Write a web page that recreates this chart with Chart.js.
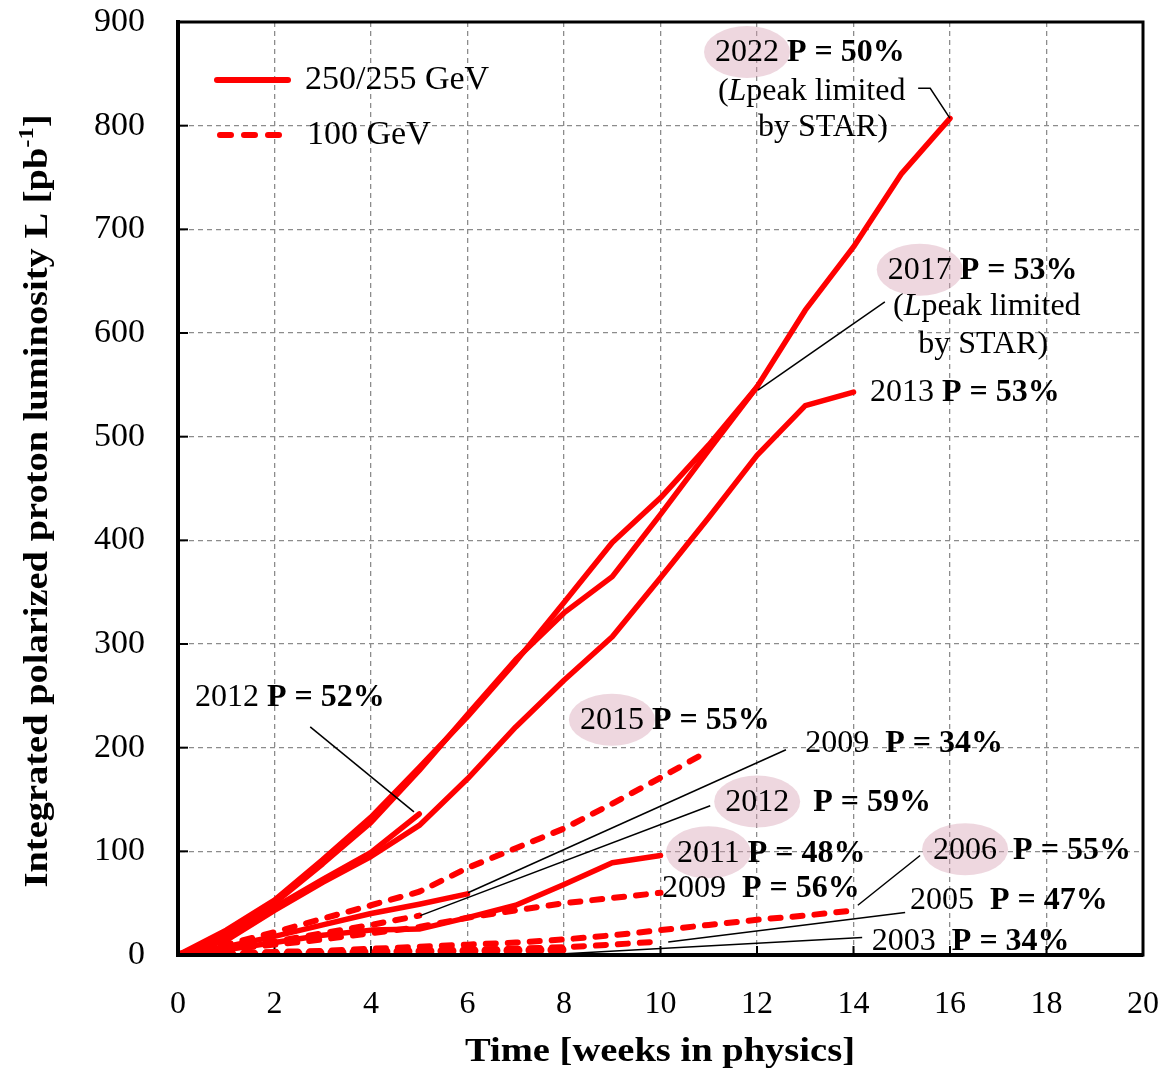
<!DOCTYPE html>
<html>
<head>
<meta charset="utf-8">
<script src="https://cdn.jsdelivr.net/npm/chart.js@4.4.1/dist/chart.umd.min.js"></script>
<style>
  html, body { margin: 0; padding: 0; background: #fff; }
</style>
</head>
<body>
<canvas id="lumiChart" width="1173" height="1071"></canvas>
<script>
// values per week in physics (index = week), pb^-1
// 250/255 GeV runs (solid)
const run2022 = [0, 20, 50, 88, 128, 178, 232, 285, 330, 365, 425, 487, 548, 622, 683, 754, 807];
const run2017 = [0, 24, 53, 92, 133, 181, 230, 283, 340, 398, 441, 492, 548];
const run2013 = [0, 14, 43, 70, 95, 125, 170, 220, 265, 307, 364, 422, 482, 530, 543];
const run2012 = [0, 16, 46, 73, 99, 136];
const run2011 = [0, 5, 12, 19, 24, 25, 36, 48, 68, 89, 96];
const run2009 = [0, 8, 18, 29, 40, 49, 59];
// 100 GeV runs (dashed)
const run2015_100 = [0, 10, 22, 35, 48, 61, 84, 103, 122, 146, 171, 197];
const run2012_100 = [0, 6, 13, 21, 29, 38];
const run2009_100 = [0, 5, 10, 15, 21, 27, 36, 43, 50, 55, 60];
const run2006_100 = [0, 1, 3, 4, 6, 8, 10, 12, 15, 19, 24, 29, 34, 38, 43];
const run2005_100 = [0, 1, 1.5, 2, 3, 4, 5, 6, 7.5, 10, 13];
const run2003_100 = [0, 0.5, 1, 2, 3, 3.5, 4, 4.5, 5];

const xTicks = [0, 2, 4, 6, 8, 10, 12, 14, 16, 18, 20];
const yTicks = [0, 100, 200, 300, 400, 500, 600, 700, 800, 900];

const SERIF = '"Liberation Serif", "Times New Roman", Times, serif';
const RED = '#ff0000';
const PINK = 'rgba(214, 160, 178, 0.42)';

const toPoints = arr => arr.map((v, i) => ({ x: i, y: v }));

function solid(label, arr) {
    return { label, data: toPoints(arr), borderColor: RED, borderWidth: 5.5, borderCapStyle: 'round', borderJoinStyle: 'round' };
}
function dashed(label, arr, w) {
    return { label, data: toPoints(arr), borderColor: RED, borderWidth: w || 6, borderDash: [10, 12], borderCapStyle: 'round' };
}

// text labels, placed in data units (week, pb^-1); s: n normal, b bold, i italic
const notes = [
    { x: 11.13, y: 871, parts: [{ t: '2022', s: 'n', pink: true }, { t: ' P = 50%', s: 'b' }] },
    { x: 11.19, y: 834, parts: [{ t: '(', s: 'n' }, { t: 'L', s: 'i' }, { t: 'peak limited', s: 'n' }] },
    { x: 12.02, y: 799, parts: [{ t: 'by STAR)', s: 'n' }] },
    { x: 14.71, y: 661, parts: [{ t: '2017', s: 'n', pink: true }, { t: ' P = 53%', s: 'b' }] },
    { x: 14.82, y: 626, parts: [{ t: '(', s: 'n' }, { t: 'L', s: 'i' }, { t: 'peak limited', s: 'n' }] },
    { x: 15.34, y: 590, parts: [{ t: 'by STAR)', s: 'n' }] },
    { x: 14.34, y: 543, parts: [{ t: '2013 ', s: 'n' }, { t: 'P = 53%', s: 'b' }] },
    { x: 0.35, y: 249, parts: [{ t: '2012 ', s: 'n' }, { t: 'P = 52%', s: 'b' }] },
    { x: 8.33, y: 227, parts: [{ t: '2015', s: 'n', pink: true }, { t: ' P = 55%', s: 'b' }] },
    { x: 13.0, y: 205, parts: [{ t: '2009  ', s: 'n' }, { t: 'P = 34%', s: 'b' }] },
    { x: 11.34, y: 148, parts: [{ t: '2012', s: 'n', pink: true }, { t: '   P = 59%', s: 'b' }] },
    { x: 10.34, y: 99, parts: [{ t: '2011', s: 'n', pink: true }, { t: ' P = 48%', s: 'b' }] },
    { x: 10.03, y: 65, parts: [{ t: '2009  ', s: 'n' }, { t: 'P = 56%', s: 'b' }] },
    { x: 15.65, y: 102, parts: [{ t: '2006', s: 'n', pink: true }, { t: '  P = 55%', s: 'b' }] },
    { x: 15.17, y: 53, parts: [{ t: '2005  ', s: 'n' }, { t: 'P = 47%', s: 'b' }] },
    { x: 14.38, y: 14, parts: [{ t: '2003  ', s: 'n' }, { t: 'P = 34%', s: 'b' }] }
];

// black leader lines from label to end of run, data units
const leaders = [
    [[15.34, 836], [15.59, 836], [16, 807]],
    [[14.65, 630], [12.02, 545]],
    [[2.74, 220], [4.89, 138]],
    [[12.6, 198], [6.01, 60]],
    [[11.03, 144], [5.02, 38]],
    [[15.38, 96], [14.09, 48]],
    [[15.07, 41], [10.16, 12.5]],
    [[14.18, 17], [7.92, 1]]
];

function fontFor(s, size) {
    if (s === 'b') return 'bold ' + size + 'px ' + SERIF;
    if (s === 'i') return 'italic ' + size + 'px ' + SERIF;
    return size + 'px ' + SERIF;
}

const decorPlugin = {
    id: 'decor',
    beforeDatasetsDraw(chart) {
        const { ctx, chartArea: a, scales } = chart;
        ctx.save();
        ctx.strokeStyle = '#000';
        ctx.lineWidth = 2;
        // inward tick marks
        yTicks.forEach(v => {
            const py = scales.y.getPixelForValue(v);
            ctx.beginPath(); ctx.moveTo(a.left, py); ctx.lineTo(a.left + 10, py); ctx.stroke();
        });
        xTicks.forEach(v => {
            const px = scales.x.getPixelForValue(v);
            ctx.beginPath(); ctx.moveTo(px, a.bottom); ctx.lineTo(px, a.bottom - 9); ctx.stroke();
        });
        ctx.restore();
    },
    afterDraw(chart) {
        const { ctx, chartArea: a, scales } = chart;
        const px = v => scales.x.getPixelForValue(v);
        const py = v => scales.y.getPixelForValue(v);
        ctx.save();

        // frame
        ctx.strokeStyle = '#000';
        ctx.lineWidth = 3;
        ctx.strokeRect(a.left, a.top, a.right - a.left, a.bottom - a.top);
        ctx.lineWidth = 4;
        ctx.beginPath(); ctx.moveTo(a.left, a.top); ctx.lineTo(a.left, a.bottom); ctx.lineTo(a.right, a.bottom); ctx.stroke();

        // leader lines
        ctx.lineWidth = 1.5;
        leaders.forEach(pts => {
            ctx.beginPath();
            pts.forEach((p, i) => i ? ctx.lineTo(px(p[0]), py(p[1])) : ctx.moveTo(px(p[0]), py(p[1])));
            ctx.stroke();
        });

        // notes
        ctx.textBaseline = 'middle';
        ctx.fillStyle = '#000';
        notes.forEach(n => {
            let cx = px(n.x);
            const cy = py(n.y);
            n.parts.forEach(p => {
                ctx.font = fontFor(p.s, 32);
                const w = ctx.measureText(p.t).width;
                if (p.pink) {
                    ctx.fillStyle = PINK;
                    ctx.beginPath();
                    ctx.ellipse(cx + w / 2, cy, w / 2 + 11, 26, 0, 0, Math.PI * 2);
                    ctx.fill();
                    ctx.fillStyle = '#000';
                }
                ctx.fillText(p.t, cx, cy + 1);
                cx += w;
            });
        });

        // legend
        ctx.strokeStyle = RED;
        ctx.lineCap = 'round';
        ctx.lineWidth = 6;
        ctx.beginPath(); ctx.moveTo(217, 80); ctx.lineTo(288, 80); ctx.stroke();
        ctx.setLineDash([11, 13]);
        ctx.beginPath(); ctx.moveTo(220, 135); ctx.lineTo(286, 135); ctx.stroke();
        ctx.setLineDash([]);
        ctx.font = '34px ' + SERIF;
        ctx.fillStyle = '#000';
        ctx.fillText('250/255 GeV', 305, 80);
        ctx.fillText('100 GeV', 307, 135);

        // y title (squeezed to the reference length)
        const main = 'Integrated polarized proton luminosity L [pb';
        ctx.font = 'bold 33px ' + SERIF;
        const w1 = ctx.measureText(main).width;
        ctx.font = 'bold 21px ' + SERIF;
        const w2 = ctx.measureText('-1').width;
        ctx.font = 'bold 33px ' + SERIF;
        const w3 = ctx.measureText(']').width;
        const total = w1 + w2 + w3;
        ctx.save();
        ctx.translate(38, 501);
        ctx.rotate(-Math.PI / 2);
        ctx.scale(773 / total, 1);
        let tx = -total / 2;
        ctx.fillText(main, tx, 0); tx += w1;
        ctx.font = 'bold 21px ' + SERIF;
        ctx.fillText('-1', tx, -10); tx += w2;
        ctx.font = 'bold 33px ' + SERIF;
        ctx.fillText(']', tx, 0);
        ctx.restore();

        // x title
        ctx.font = 'bold 34px ' + SERIF;
        const xt = 'Time [weeks in physics]';
        const xw = ctx.measureText(xt).width;
        ctx.save();
        ctx.translate(660, 1052);
        ctx.scale(390 / xw, 1);
        ctx.textAlign = 'center';
        ctx.fillText(xt, 0, 0);
        ctx.restore();

        ctx.restore();
    }
};

const ctx = document.getElementById('lumiChart');
const lumiChart = new Chart(ctx, {
    type: 'line',
    data: {
        datasets: [
            dashed('2003 100 GeV', run2003_100, 9),
            dashed('2005 100 GeV', run2005_100),
            dashed('2006 100 GeV', run2006_100),
            dashed('2009 100 GeV', run2009_100),
            dashed('2012 100 GeV', run2012_100),
            dashed('2015 100 GeV', run2015_100),
            solid('2009', run2009),
            solid('2011', run2011),
            solid('2012', run2012),
            solid('2013', run2013),
            solid('2017', run2017),
            solid('2022', run2022)
        ]
    },
    options: {
        responsive: false,
        animation: false,
        layout: { padding: { top: 22, right: 30, left: 0, bottom: 0 } },
        elements: { point: { radius: 0 }, line: { tension: 0 } },
        plugins: { legend: { display: false }, tooltip: { enabled: false } },
        scales: {
            x: {
                type: 'linear', min: 0, max: 20,
                afterBuildTicks: s => { s.ticks = xTicks.map(v => ({ value: v })); },
                afterFit: s => { s.height = 116; s.paddingLeft = 0; s.paddingRight = 0; },
                grid: { color: '#8c8c8c', lineWidth: 1.3, drawTicks: false },
                border: { display: true, color: '#000', width: 4, dash: [5, 4] },
                ticks: { color: '#000', font: { family: SERIF, size: 32 }, padding: 30, maxRotation: 0 }
            },
            y: {
                type: 'linear', min: 0, max: 900,
                afterBuildTicks: s => { s.ticks = yTicks.map(v => ({ value: v })); },
                afterFit: s => { s.width = 178; s.paddingTop = 0; s.paddingBottom = 0; },
                grid: { color: '#8c8c8c', lineWidth: 1.3, drawTicks: false },
                border: { display: true, color: '#000', width: 4, dash: [5, 4] },
                ticks: { color: '#000', font: { family: SERIF, size: 34 }, padding: 33 }
            }
        }
    },
    plugins: [decorPlugin]
});
</script>
</body>
</html>
